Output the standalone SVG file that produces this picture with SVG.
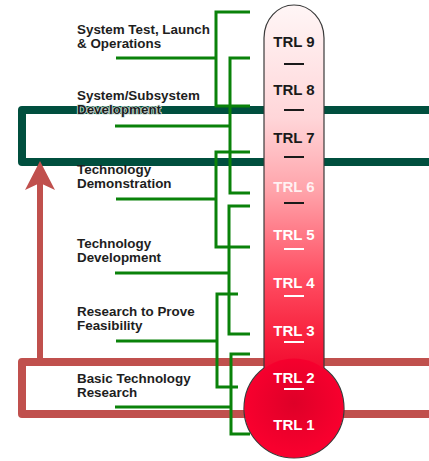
<svg xmlns="http://www.w3.org/2000/svg" width="429" height="461" viewBox="0 0 429 461">
<style>
.lbl{font-family:"Liberation Sans",Arial,sans-serif;font-weight:bold;font-size:13.4px;fill:#1e1e1e}
.halo{stroke:#cfe0da;stroke-width:1.6px;paint-order:stroke;stroke-linejoin:round}
.trl{font-family:"Liberation Sans",Arial,sans-serif;font-weight:bold;font-size:15px;text-anchor:middle}
.g{fill:none;stroke:#0a820a;stroke-width:3}
.dk{fill:#1a1a1a}
.wt{fill:#ffffff}
</style>
<defs>
<linearGradient id="tube" gradientUnits="userSpaceOnUse" x1="0" y1="5" x2="0" y2="380">
<stop offset="0" stop-color="#fff6f6"/>
<stop offset="0.3" stop-color="#ffd6d9"/>
<stop offset="0.5" stop-color="#ffa2a9"/>
<stop offset="0.72" stop-color="#ff5064"/>
<stop offset="0.88" stop-color="#f8223e"/>
<stop offset="1" stop-color="#f0042c"/>
</linearGradient>
<radialGradient id="bulb" cx="0.5" cy="0.45" r="0.5">
<stop offset="0" stop-color="#de0028"/>
<stop offset="1" stop-color="#f8002e"/>
</radialGradient>
</defs>
<g id="bars">
<path d="M440,110 H22 V162 H440" fill="none" stroke="#004f3e" stroke-width="8" stroke-linejoin="round"/>
<path d="M440,362 H22 V414 H440" fill="none" stroke="#c0504d" stroke-width="8" stroke-linejoin="round"/>
<line x1="40" y1="182" x2="40" y2="358" stroke="#c0504d" stroke-width="6"/>
<polygon points="40,161 55,190 40,183 25,190" fill="#c0504d"/>
</g>
<g id="thermometer">
<path d="M264,38 A30,33 0 0 1 324,38 V368 A50,50 0 1 1 264,368 Z" fill="url(#tube)" stroke="#3a3a3a" stroke-width="1.2"/>
<circle cx="294" cy="408" r="49.4" fill="url(#bulb)"/>
<text class="trl dk" x="294" y="47">TRL 9</text>
<text class="trl dk" x="294" y="95">TRL 8</text>
<text class="trl dk" x="294" y="143">TRL 7</text>
<text class="trl wt" x="294" y="192" fill-opacity="0.85">TRL 6</text>
<text class="trl wt" x="294" y="240">TRL 5</text>
<text class="trl wt" x="294" y="288">TRL 4</text>
<text class="trl wt" x="294" y="336">TRL 3</text>
<text class="trl wt" x="294" y="383">TRL 2</text>
<text class="trl wt" x="294" y="430">TRL 1</text>
<g stroke-width="2">
<line x1="284" y1="64" x2="304" y2="64" stroke="#1a1a1a"/>
<line x1="284" y1="110" x2="304" y2="110" stroke="#1a1a1a"/>
<line x1="284" y1="157" x2="304" y2="157" stroke="#1a1a1a"/>
<line x1="284" y1="203" x2="304" y2="203" stroke="#1a1a1a"/>
<line x1="284" y1="249" x2="304" y2="249" stroke="#ffffff"/>
<line x1="284" y1="296" x2="304" y2="296" stroke="#ffffff"/>
<line x1="284" y1="342" x2="304" y2="342" stroke="#ffffff"/>
<line x1="284" y1="389" x2="304" y2="389" stroke="#ffffff"/>
</g>
</g>
<g id="connectors">
<path class="g" d="M250,12 H216 V106 H250 M116,58 H216"/>
<path class="g" d="M250,58 H230 V193 H250 M115,126 H230"/>
<path class="g" d="M250,152 H216 V247 H250 M116,199 H216"/>
<path class="g" d="M250,206 H229 V334 H250 M115,273 H229"/>
<path class="g" d="M238,294 H217 V387 H238 M116,341 H217"/>
<path class="g" d="M250,354 H231 V434 H250 M115,407 H231"/>
</g>
<g id="n-system-test"><text class="lbl" x="77" y="34">System Test, Launch</text><text class="lbl" x="77" y="48">&amp; Operations</text></g>
<g id="n-system-dev"><text class="lbl" x="77" y="100">System/Subsystem</text><text class="lbl halo" x="77" y="114">Development</text></g>
<g id="n-tech-demo"><text class="lbl" x="77" y="174">Technology</text><text class="lbl" x="77" y="188">Demonstration</text></g>
<g id="n-tech-dev"><text class="lbl" x="77" y="248">Technology</text><text class="lbl" x="77" y="262">Development</text></g>
<g id="n-research"><text class="lbl" x="77" y="316">Research to Prove</text><text class="lbl" x="77" y="330">Feasibility</text></g>
<g id="n-basic"><text class="lbl" x="77" y="383">Basic Technology</text><text class="lbl" x="77" y="397">Research</text></g>
</svg>
